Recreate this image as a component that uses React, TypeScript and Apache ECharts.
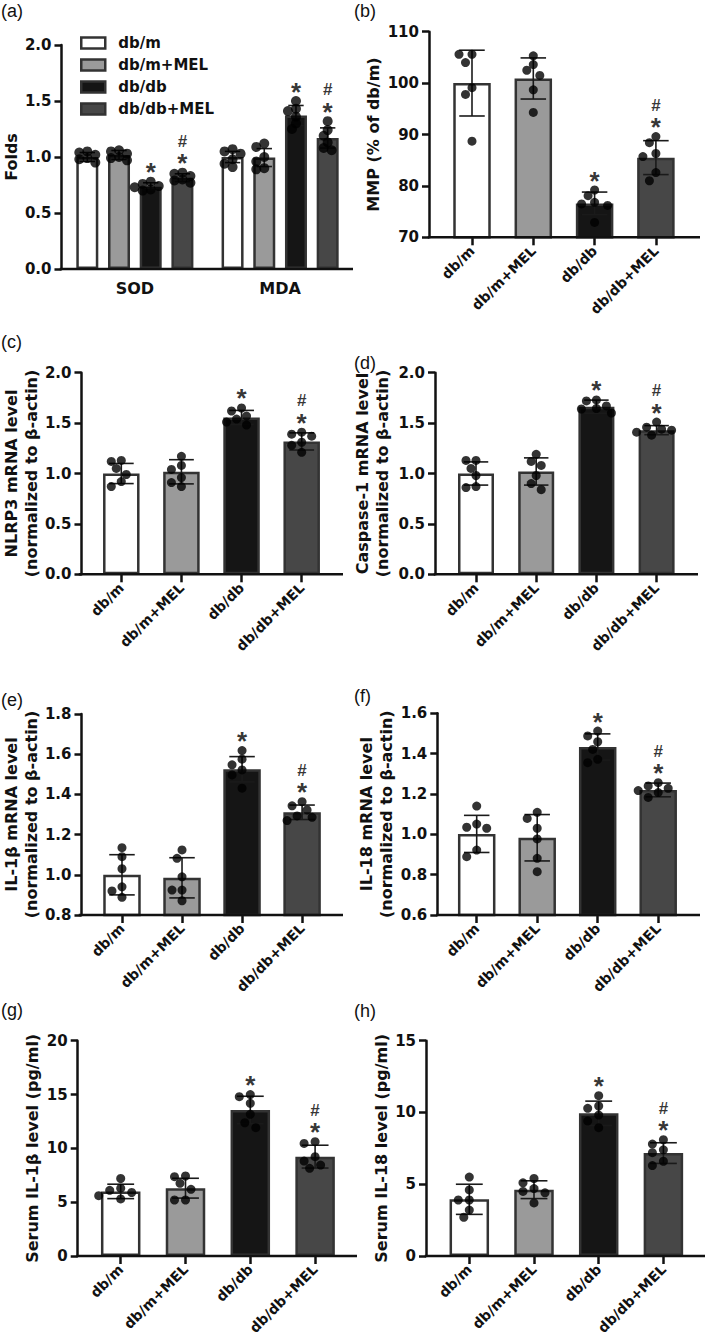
import React, { useEffect, useRef } from "react";
import * as echarts from "echarts";

// ---------- DATA ----------
const GROUPS = ["db/m", "db/m+MEL", "db/db", "db/db+MEL"];
const SIG = ["", "", "*", "#*"];

// (a)
const A_CATS = ["SOD", "MDA"];
const A_YTICKS = [0, 0.5, 1.0, 1.5, 2.0];
const A_YNAME = "Folds";
const A_SOD_MEAN = [1.0, 1.018, 0.735, 0.815];
const A_SOD_SD = [0.04, 0.04, 0.035, 0.035];
const A_SOD_PTS = [
  [1.05, 1.04, 1.02, 0.99, 0.98, 0.95],
  [1.06, 1.05, 1.03, 1.0, 0.99, 0.97],
  [0.78, 0.76, 0.74, 0.73, 0.71, 0.7],
  [0.86, 0.85, 0.83, 0.8, 0.79, 0.77],
];
const A_MDA_MEAN = [1.0, 0.995, 1.37, 1.17];
const A_MDA_SD = [0.05, 0.08, 0.09, 0.09];
const A_MDA_PTS = [
  [1.07, 1.05, 1.03, 0.98, 0.94, 0.91],
  [1.12, 1.09, 1.0, 0.96, 0.9, 0.89],
  [1.5, 1.43, 1.41, 1.36, 1.3, 1.25],
  [1.32, 1.24, 1.19, 1.13, 1.08, 1.06],
];

// (b)
const B_YTICKS = [70, 80, 90, 100, 110];
const B_YNAME = "MMP (% of db/m)";
const B_MEAN = [100, 100.9, 76.6, 85.5];
const B_SD = [6.4, 4.0, 2.2, 3.3];
const B_PTS = [
  [105.6, 105.6, 104.0, 99.1, 97.8, 88.7],
  [105.3, 103.6, 102.5, 101.5, 98.7, 94.3],
  [79.2, 78.1, 76.8, 76.5, 76.2, 72.9],
  [89.6, 88.4, 86.3, 85.7, 82.6, 81.0],
];

// (c)
const C_YTICKS = [0, 0.5, 1.0, 1.5, 2.0];
const C_YNAME = "NLRP3 mRNA level\n(normalized to β-actin)";
const C_MEAN = [1.0, 1.017, 1.556, 1.318];
const C_SD = [0.1, 0.12, 0.07, 0.085];
const C_PTS = [
  [1.13, 1.12, 1.05, 0.99, 0.92, 0.87],
  [1.17, 1.08, 1.04, 0.96, 0.91, 0.87],
  [1.65, 1.62, 1.57, 1.54, 1.51, 1.48],
  [1.41, 1.39, 1.37, 1.31, 1.28, 1.21],
];

// (d)
const D_YTICKS = [0, 0.5, 1.0, 1.5, 2.0];
const D_YNAME = "Caspase-1 mRNA level\n(normalized to β-actin)";
const D_MEAN = [1.0, 1.02, 1.663, 1.43];
const D_SD = [0.115, 0.135, 0.065, 0.045];
const D_PTS = [
  [1.13, 1.13, 1.05, 0.98, 0.87, 0.86],
  [1.19, 1.12, 1.08, 0.98, 0.9, 0.84],
  [1.73, 1.72, 1.67, 1.645, 1.64, 1.6],
  [1.51, 1.46, 1.44, 1.43, 1.41, 1.38],
];

// (e)
const E_YTICKS = [0.8, 1.0, 1.2, 1.4, 1.6, 1.8];
const E_YNAME = "IL-1β mRNA level\n(normalized to β-actin)";
const E_MEAN = [1.0, 0.985, 1.525, 1.311];
const E_SD = [0.1, 0.1, 0.063, 0.036];
const E_PTS = [
  [1.135, 1.09, 1.03, 0.94, 0.92, 0.888],
  [1.124, 1.082, 0.99, 0.924, 0.924, 0.871],
  [1.618, 1.575, 1.547, 1.522, 1.497, 1.431],
  [1.364, 1.343, 1.323, 1.293, 1.286, 1.27],
];

// (f)
const F_YTICKS = [0.6, 0.8, 1.0, 1.2, 1.4, 1.6];
const F_YNAME = "IL-18 mRNA level\n(normalized to β-actin)";
const F_MEAN = [1.002, 0.983, 1.433, 1.22];
const F_SD = [0.092, 0.115, 0.065, 0.034];
const F_PTS = [
  [1.14, 1.051, 1.035, 1.03, 0.922, 0.889],
  [1.109, 1.079, 1.03, 0.977, 0.881, 0.815],
  [1.512, 1.488, 1.459, 1.421, 1.372, 1.355],
  [1.256, 1.24, 1.228, 1.217, 1.207, 1.183],
];

// (g)
const G_YTICKS = [0, 5, 10, 15, 20];
const G_YNAME = "Serum IL-1β level (pg/ml)";
const G_MEAN = [6.0, 6.3, 13.56, 9.23];
const G_SD = [0.67, 0.92, 1.28, 1.06];
const G_PTS = [
  [7.2, 6.3, 6.1, 5.9, 5.6, 5.3],
  [7.43, 7.37, 6.75, 6.19, 5.2, 5.2],
  [15.0, 14.8, 14.18, 13.16, 12.38, 11.92],
  [10.62, 10.46, 9.23, 8.82, 8.45, 8.14],
];

// (h)
const H_YTICKS = [0, 5, 10, 15];
const H_YNAME = "Serum IL-18 level (pg/ml)";
const H_MEAN = [3.95, 4.62, 9.94, 7.17];
const H_SD = [1.05, 0.62, 0.85, 0.72];
const H_PTS = [
  [5.5, 4.6, 3.9, 3.9, 3.2, 2.7],
  [5.4, 5.1, 4.7, 4.5, 4.4, 3.7],
  [11.17, 10.45, 10.29, 9.82, 9.4, 8.94],
  [8.1, 7.8, 7.4, 7.2, 6.6, 6.3],
];

// ---------- STYLE / LAYOUT ----------
const FONT = '"DejaVu Sans", "Liberation Sans", sans-serif';
const TAG_FONT = '"Liberation Sans", Arial, sans-serif';
const INK = "#111111";
const FILLS = ["#ffffff", "#9a9a9a", "#151515", "#474747"];
const BORDER = "#333333";
const AXIS_W = 2.5;

type Lay = {
  tag: string; tagX: number; tagY: number;
  axisX: number; top: number; bottom: number;
  firstCenter: number; catW: number; axisEnd: number;
  barW: number; dot: number; minDist: number; step: number; nameGap: number; dec: number;
};

const LAY_A: Lay = { tag: "(a)", tagX: 1, tagY: 2, axisX: 61, top: 45, bottom: 269, firstCenter: 134.5, catW: 145.5, axisEnd: 353, barW: 22, dot: 10, minDist: 6.5, step: 4, nameGap: 36, dec: 1 };
const A_STRIDE = 31.7;
const LAYS: Lay[] = [
  { tag: "(b)", tagX: 354, tagY: 2, axisX: 429, top: 31.7, bottom: 237.3, firstCenter: 472, catW: 61.3, axisEnd: 700, barW: 37.5, dot: 9, minDist: 8.5, step: 6.5, nameGap: 40, dec: 0 },
  { tag: "(c)", tagX: 1, tagY: 333, axisX: 80, top: 372.7, bottom: 574.3, firstCenter: 120, catW: 60.5, axisEnd: 343, barW: 36.5, dot: 9, minDist: 8.5, step: 5, nameGap: 40, dec: 1 },
  { tag: "(d)", tagX: 354, tagY: 354, axisX: 435, top: 372.7, bottom: 574.3, firstCenter: 476, catW: 60.2, axisEnd: 698, barW: 36, dot: 9, minDist: 8.5, step: 5, nameGap: 43, dec: 1 },
  { tag: "(e)", tagX: 1, tagY: 691, axisX: 80, top: 714, bottom: 915, firstCenter: 120.7, catW: 60.4, axisEnd: 343, barW: 37.5, dot: 9, minDist: 8.5, step: 5, nameGap: 38, dec: 1 },
  { tag: "(f)", tagX: 354, tagY: 687, axisX: 437.3, top: 713.3, bottom: 915, firstCenter: 476.7, catW: 60.5, axisEnd: 700, barW: 37.5, dot: 9, minDist: 8.5, step: 5, nameGap: 40, dec: 1 },
  { tag: "(g)", tagX: 1, tagY: 1001, axisX: 77.7, top: 1040.7, bottom: 1256, firstCenter: 120.7, catW: 64.8, axisEnd: 357, barW: 39.5, dot: 9, minDist: 8.5, step: 5.5, nameGap: 33, dec: 0 },
  { tag: "(h)", tagX: 354, tagY: 1002, axisX: 426, top: 1040.7, bottom: 1256, firstCenter: 469.3, catW: 64.7, axisEnd: 705, barW: 39.5, dot: 9, minDist: 8.5, step: 5.5, nameGap: 30, dec: 0 },
];

const PANELS = [
  { yTicks: B_YTICKS, yName: B_YNAME, mean: B_MEAN, sd: B_SD, pts: B_PTS },
  { yTicks: C_YTICKS, yName: C_YNAME, mean: C_MEAN, sd: C_SD, pts: C_PTS },
  { yTicks: D_YTICKS, yName: D_YNAME, mean: D_MEAN, sd: D_SD, pts: D_PTS },
  { yTicks: E_YTICKS, yName: E_YNAME, mean: E_MEAN, sd: E_SD, pts: E_PTS },
  { yTicks: F_YTICKS, yName: F_YNAME, mean: F_MEAN, sd: F_SD, pts: F_PTS },
  { yTicks: G_YTICKS, yName: G_YNAME, mean: G_MEAN, sd: G_SD, pts: G_PTS },
  { yTicks: H_YTICKS, yName: H_YNAME, mean: H_MEAN, sd: H_SD, pts: H_PTS },
];

const MARK_RICH = {
  h: { fontFamily: TAG_FONT, fontWeight: "bold", fontSize: 17, lineHeight: 24, color: "#000", align: "center" },
  s: { fontFamily: TAG_FONT, fontWeight: "bold", fontSize: 26, lineHeight: 20, color: "#000", align: "center" },
};
const MARK_DIST = -1;

// beeswarm-like horizontal spreading of dots (pixel offsets)
function swarm(vals: number[], pxPerUnit: number, minDist: number, step: number): number[] {
  const order = vals.map((_, i) => i).sort((a, b) => vals[b] - vals[a]);
  const placed: { x: number; y: number }[] = [];
  const out = new Array(vals.length).fill(0);
  const cands = [0, -1, 1, -2, 2, -3, 3, -4, 4, -5, 5];
  for (const i of order) {
    const y = -vals[i] * pxPerUnit;
    for (const c of cands) {
      const x = c * step;
      const ok = placed.every((p) => (p.x - x) ** 2 + (p.y - y) ** 2 >= minDist ** 2);
      if (ok) {
        placed.push({ x, y });
        out[i] = x;
        break;
      }
    }
  }
  return out;
}

function errRender(offset: number, capW: number) {
  return (params: any, api: any) => {
    const j = api.value(0);
    const m = api.value(1);
    const s = api.value(2);
    const x = api.coord([j, m])[0] + offset;
    const yt = api.coord([j, m + s])[1];
    const yb = api.coord([j, m - s])[1];
    const st = { stroke: "#1a1a1a", lineWidth: 1.6 };
    return {
      type: "group",
      children: [
        { type: "line", shape: { x1: x, y1: yt, x2: x, y2: yb }, style: st },
        { type: "line", shape: { x1: x - capW / 2, y1: yt, x2: x + capW / 2, y2: yt }, style: st },
        { type: "line", shape: { x1: x - capW / 2, y1: yb, x2: x + capW / 2, y2: yb }, style: st },
      ],
    };
  };
}

function yAxisFor(idx: number, lay: Lay, gridLeft: number, ticks: number[], name: string) {
  return {
    gridIndex: idx,
    type: "value",
    min: ticks[0],
    max: ticks[ticks.length - 1],
    interval: ticks[1] - ticks[0],
    offset: gridLeft - lay.axisX,
    axisLine: { show: true, lineStyle: { color: INK, width: AXIS_W } },
    axisTick: { show: true, length: 7, lineStyle: { color: INK, width: AXIS_W } },
    axisLabel: {
      color: INK, fontFamily: FONT, fontWeight: "bold", fontSize: 15, margin: 10,
      formatter: (v: number) => v.toFixed(lay.dec),
    },
    splitLine: { show: false },
    name,
    nameLocation: "middle",
    nameGap: lay.nameGap,
    nameTextStyle: { color: INK, fontFamily: FONT, fontWeight: "bold", fontSize: 16, lineHeight: 20 },
  };
}

function markerItem(j: number, cat: number, top: number, offset: number) {
  return {
    value: [cat, top],
    symbolOffset: [offset, 0],
    label: { formatter: SIG[j] === "#*" ? "{h|#}\n{s|*}" : "{s|*}" },
  };
}

function buildOption() {
  const grids: any[] = [];
  const xAxes: any[] = [];
  const yAxes: any[] = [];
  const series: any[] = [];
  const graphics: any[] = [];

  const tag = (lay: Lay) => ({
    type: "text", x: lay.tagX, y: lay.tagY,
    style: { text: lay.tag, fontFamily: TAG_FONT, fontSize: 18, fill: INK, verticalAlign: "top" },
  });
  const baseLine = (lay: Lay) => ({
    type: "line",
    shape: { x1: lay.axisX - AXIS_W / 2, y1: lay.bottom, x2: lay.axisEnd, y2: lay.bottom },
    style: { stroke: INK, lineWidth: AXIS_W },
    z: 10,
  });
  const markLabel = { show: true, position: "top", distance: MARK_DIST, rich: MARK_RICH };

  // ----- panel (a): grouped -----
  {
    const lay = LAY_A;
    const gl = lay.firstCenter - lay.catW / 2;
    grids.push({ left: gl, top: lay.top, width: lay.catW * A_CATS.length, height: lay.bottom - lay.top });
    xAxes.push({
      gridIndex: 0, type: "category", data: A_CATS,
      axisLine: { show: false }, axisTick: { show: false },
      axisLabel: { color: INK, fontFamily: FONT, fontWeight: "bold", fontSize: 16, margin: 11 },
    });
    yAxes.push(yAxisFor(0, lay, gl, A_YTICKS, A_YNAME));
    graphics.push(tag(lay), baseLine(lay));
    const ppu = (lay.bottom - lay.top) / (A_YTICKS[A_YTICKS.length - 1] - A_YTICKS[0]);
    const gapPct = ((A_STRIDE - lay.barW) / lay.barW) * 100;
    GROUPS.forEach((g, gi) => {
      const off = (gi - 1.5) * A_STRIDE;
      const means = [A_SOD_MEAN[gi], A_MDA_MEAN[gi]];
      const sds = [A_SOD_SD[gi], A_MDA_SD[gi]];
      const pts = [A_SOD_PTS[gi], A_MDA_PTS[gi]];
      series.push({
        type: "bar", name: g, xAxisIndex: 0, yAxisIndex: 0, data: means,
        barWidth: lay.barW, barGap: gapPct + "%", z: 2,
        itemStyle: { color: FILLS[gi], borderColor: BORDER, borderWidth: 2.5 },
      });
      series.push({
        type: "custom", name: "err-a-" + gi, xAxisIndex: 0, yAxisIndex: 0, z: 3,
        data: means.map((m, c) => [c, m, sds[c]]),
        encode: { x: 0, y: 1 },
        renderItem: errRender(off, lay.barW * 0.7),
      });
      const dots: any[] = [];
      pts.forEach((arr, c) => {
        const offs = swarm(arr, ppu, lay.minDist, lay.step);
        arr.forEach((v, k) => dots.push({ value: [c, v], symbolOffset: [off + offs[k], 0] }));
      });
      series.push({
        type: "scatter", name: "dots-a-" + gi, xAxisIndex: 0, yAxisIndex: 0, z: 4,
        symbolSize: lay.dot, itemStyle: { color: "#000" }, data: dots,
      });
      if (SIG[gi]) {
        series.push({
          type: "scatter", name: "sig-a-" + gi, xAxisIndex: 0, yAxisIndex: 0, z: 5,
          symbolSize: 1, itemStyle: { color: "rgba(0,0,0,0)" },
          label: markLabel,
          data: means.map((m, c) => markerItem(gi, c, Math.max(m + sds[c], ...pts[c]), off)),
        });
      }
    });
  }

  // ----- panels (b)-(h) -----
  PANELS.forEach((p, pi) => {
    const idx = pi + 1;
    const lay = LAYS[pi];
    const gl = lay.firstCenter - lay.catW / 2;
    grids.push({ left: gl, top: lay.top, width: lay.catW * GROUPS.length, height: lay.bottom - lay.top });
    xAxes.push({
      gridIndex: idx, type: "category", data: GROUPS,
      axisLine: { show: false },
      axisTick: { show: true, alignWithLabel: true, length: 8, lineStyle: { color: INK, width: AXIS_W } },
      axisLabel: { color: INK, fontFamily: FONT, fontWeight: "bold", fontSize: 14, rotate: 45, margin: 11, interval: 0 },
    });
    yAxes.push(yAxisFor(idx, lay, gl, p.yTicks, p.yName));
    graphics.push(tag(lay), baseLine(lay));
    const ppu = (lay.bottom - lay.top) / (p.yTicks[p.yTicks.length - 1] - p.yTicks[0]);

    series.push({
      type: "bar", name: "bars-" + idx, xAxisIndex: idx, yAxisIndex: idx, barWidth: lay.barW, z: 2,
      itemStyle: { borderColor: BORDER, borderWidth: 2.5 },
      data: p.mean.map((m, j) => ({ value: m, itemStyle: { color: FILLS[j] } })),
    });
    series.push({
      type: "custom", name: "err-" + idx, xAxisIndex: idx, yAxisIndex: idx, z: 3,
      data: p.mean.map((m, j) => [j, m, p.sd[j]]),
      encode: { x: 0, y: 1 },
      renderItem: errRender(0, lay.barW * 0.68),
    });
    const dots: any[] = [];
    p.pts.forEach((arr, j) => {
      const offs = swarm(arr, ppu, lay.minDist, lay.step);
      arr.forEach((v, k) => dots.push({ value: [j, v], symbolOffset: [offs[k], 0] }));
    });
    series.push({
      type: "scatter", name: "dots-" + idx, xAxisIndex: idx, yAxisIndex: idx, z: 4,
      symbolSize: lay.dot, itemStyle: { color: "#000" }, data: dots,
    });
    const marks: any[] = [];
    p.mean.forEach((m, j) => {
      if (!SIG[j]) return;
      marks.push(markerItem(j, j, Math.max(m + p.sd[j], ...p.pts[j]), 0));
    });
    series.push({
      type: "scatter", name: "sig-" + idx, xAxisIndex: idx, yAxisIndex: idx, z: 5,
      symbolSize: 1, itemStyle: { color: "rgba(0,0,0,0)" },
      label: markLabel,
      data: marks,
    });
  });

  return {
    animation: false,
    backgroundColor: "#ffffff",
    grid: grids,
    xAxis: xAxes,
    yAxis: yAxes,
    series,
    graphic: graphics,
    legend: {
      data: GROUPS,
      orient: "vertical",
      left: 75,
      top: 30,
      itemWidth: 24,
      itemHeight: 11,
      itemGap: 6,
      icon: "rect",
      selectedMode: false,
      itemStyle: { borderColor: BORDER, borderWidth: 2.5 },
      textStyle: { color: INK, fontFamily: FONT, fontWeight: "bold", fontSize: 15, lineHeight: 16, padding: [0, 0, 0, 8] },
    },
  };
}

export default function App() {
  const ref = useRef<HTMLDivElement>(null);
  useEffect(() => {
    document.body.style.margin = "0";
    if (!ref.current) return;
    const chart = echarts.init(ref.current, undefined, { renderer: "svg" });
    chart.setOption(buildOption() as any);
    return () => chart.dispose();
  }, []);
  return <div ref={ref} style={{ width: 705, height: 1343, background: "#fff" }} />;
}
